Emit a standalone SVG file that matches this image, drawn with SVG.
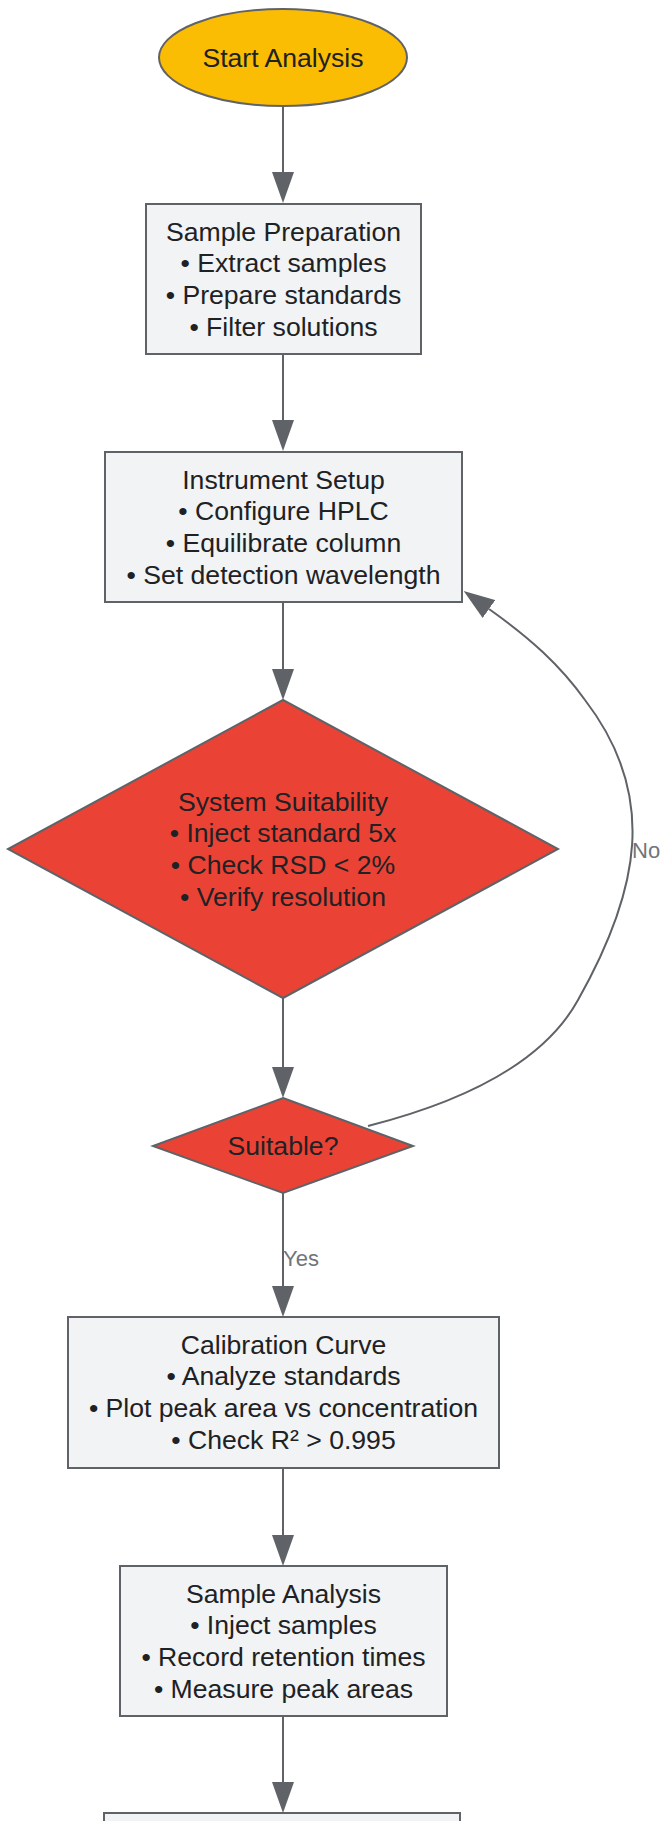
<svg xmlns="http://www.w3.org/2000/svg" width="662" height="1821" viewBox="0 0 662 1821">
<style>
  .box { fill: #f1f3f4; stroke: #5f6368; stroke-width: 2; }
  .start { fill: #fbbc04; stroke: #5f6368; stroke-width: 2; }
  .dec { fill: #ea4335; stroke: #5f6368; stroke-width: 2; }
  .t { font-family: "Liberation Sans", Arial, sans-serif; font-size: 26.6px; fill: #202124; text-anchor: middle; }
  .edge { fill: none; stroke: #5f6368; stroke-width: 2; marker-end: url(#arrow); }
  .lbl { font-family: "Liberation Sans", Arial, sans-serif; font-size: 22px; fill: #70757a; }
</style>
<defs>
  <marker id="arrow" viewBox="0 0 31 22" refX="0" refY="11" markerWidth="31" markerHeight="22" markerUnits="userSpaceOnUse" orient="auto">
    <path d="M0,0 L31,11 L0,22 z" fill="#5f6368"/>
  </marker>
</defs>
<rect width="662" height="1821" fill="#ffffff"/>
<g id="connectors">
  <line class="edge" x1="283" y1="106" x2="283" y2="172"/>
  <line class="edge" x1="283" y1="354" x2="283" y2="420"/>
  <line class="edge" x1="283" y1="602" x2="283" y2="669"/>
  <line class="edge" x1="283" y1="998" x2="283" y2="1067"/>
  <line class="edge" x1="283" y1="1193" x2="283" y2="1286"/>
  <line class="edge" x1="283" y1="1468" x2="283" y2="1535"/>
  <line class="edge" x1="283" y1="1716" x2="283" y2="1782"/>
  <path class="edge" d="M368,1126 C470,1100 545,1060 578,1000 C640,890 658,795 585,700 C560,665 530,638 489,609"/>
  <text class="lbl" x="632" y="858">No</text>
  <text class="lbl" x="283" y="1266">Yes</text>
</g>
<g id="start">
  <ellipse class="start" cx="283" cy="57.5" rx="124" ry="48.5"/>
  <text class="t" x="283" y="66.5">Start Analysis</text>
</g>
<g id="sample-prep">
  <rect class="box" x="146" y="204" width="275" height="150"/>
  <text class="t" x="283.5" y="240.5">Sample Preparation</text>
  <text class="t" x="283.5" y="272.2">• Extract samples</text>
  <text class="t" x="283.5" y="303.8">• Prepare standards</text>
  <text class="t" x="283.5" y="335.5">• Filter solutions</text>
</g>
<g id="instrument-setup">
  <rect class="box" x="105" y="452" width="357" height="150"/>
  <text class="t" x="283.5" y="488.5">Instrument Setup</text>
  <text class="t" x="283.5" y="520.2">• Configure HPLC</text>
  <text class="t" x="283.5" y="551.8">• Equilibrate column</text>
  <text class="t" x="283.5" y="583.5">• Set detection wavelength</text>
</g>
<g id="system-suitability">
  <polygon class="dec" points="283,700 558,849 283,998 8,849"/>
  <text class="t" x="283" y="810.5">System Suitability</text>
  <text class="t" x="283" y="842.2">• Inject standard 5x</text>
  <text class="t" x="283" y="873.8">• Check RSD &lt; 2%</text>
  <text class="t" x="283" y="905.5">• Verify resolution</text>
</g>
<g id="suitable">
  <polygon class="dec" points="283,1098 413,1146 283,1193 153,1146"/>
  <text class="t" x="283" y="1155">Suitable?</text>
</g>
<g id="calibration">
  <rect class="box" x="68" y="1317" width="431" height="151"/>
  <text class="t" x="283.5" y="1353.5">Calibration Curve</text>
  <text class="t" x="283.5" y="1385.2">• Analyze standards</text>
  <text class="t" x="283.5" y="1416.8">• Plot peak area vs concentration</text>
  <text class="t" x="283.5" y="1448.5">• Check R² &gt; 0.995</text>
</g>
<g id="sample-analysis">
  <rect class="box" x="120" y="1566" width="327" height="150"/>
  <text class="t" x="283.5" y="1602.5">Sample Analysis</text>
  <text class="t" x="283.5" y="1634.2">• Inject samples</text>
  <text class="t" x="283.5" y="1665.8">• Record retention times</text>
  <text class="t" x="283.5" y="1697.5">• Measure peak areas</text>
</g>
<g id="next-step">
  <rect class="box" x="104" y="1813" width="356" height="150"/>
</g>
</svg>
